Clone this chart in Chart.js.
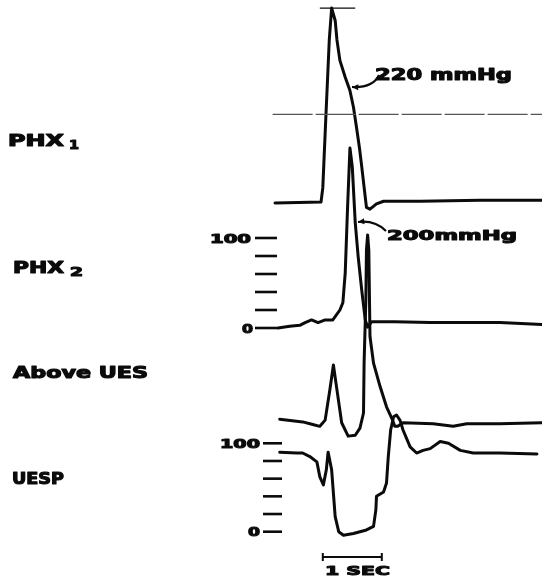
<!DOCTYPE html>
<html>
<head>
<meta charset="utf-8">
<script src="https://cdn.jsdelivr.net/npm/chart.js@4/dist/chart.umd.min.js"></script>
<style>
html,body{margin:0;padding:0;background:#fff;}
#wrap{position:relative;width:542px;height:579px;}
</style>
</head>
<body>
<div id="wrap"><canvas id="c"></canvas></div>
<script>
// ---- DATA (time in seconds, pressure in mmHg) ----
const traceNames = ['PHX', 'PHX', 'Above UES', 'UESP'];
const traceSubscripts = ['1', '2', '', ''];

const phx1Time  = [0, 0.78, 0.81, 0.86, 0.92, 0.96, 1.02, 1.05, 1.10, 1.19, 1.27, 1.33, 1.38, 1.43, 1.47, 1.51, 1.55, 1.61, 1.72, 1.84, 2.46, 3.47, 4.53];
const phx1Value = [0, 1, 17, 94, 184, 220, 206, 184, 161, 142, 127, 108, 86, 63, 41, 18, -5, -7, -1, 2, 2, 3, 3];

const phx2Time  = [0.05, 0.25, 0.42, 0.51, 0.62, 0.73, 0.85, 0.98, 1.10, 1.15, 1.19, 1.23, 1.27, 1.31, 1.36, 1.41, 1.47, 1.53, 1.57, 1.64, 2.03, 2.63, 3.81, 4.53];
const phx2Value = [0, 2, 3, 6, 9, 6, 9, 9, 20, 28, 61, 134, 200, 179, 117, 79, 42, 9, 1, 7, 7, 6, 6, 4];

const aboveUesTime  = [0.08, 0.47, 0.64, 0.76, 0.85, 0.93, 0.99, 1.05, 1.13, 1.24, 1.36, 1.44, 1.50, 1.51, 1.54, 1.55, 1.57, 1.59, 1.61, 1.67, 1.78, 1.89, 1.98, 2.03, 2.08, 2.17, 2.68, 3.02, 3.25, 3.81, 4.53];
const aboveUesValue = [2, -1, -4, -6, 1, 35, 63, 35, -2, -17, -16, -8, 9, 65, 136, 192, 209, 192, 95, 65, 39, 16, 3, -6, -6, -2, -3, -6, -3, -3, -2];

const uespTime  = [0.08, 0.37, 0.47, 0.59, 0.71, 0.76, 0.82, 0.87, 0.90, 0.96, 1.02, 1.08, 1.16, 1.33, 1.55, 1.67, 1.71, 1.72, 1.84, 1.89, 1.92, 1.96, 2.01, 2.06, 2.12, 2.17, 2.29, 2.40, 2.51, 2.63, 2.80, 2.94, 3.14, 3.36, 3.81, 4.44];
const uespValue = [90, 89, 89, 85, 79, 62, 53, 70, 90, 70, 17, 0, -4, -2, 2, 6, 25, 40, 45, 55, 85, 115, 130, 132, 126, 115, 96, 89, 92, 94, 102, 100, 92, 89, 89, 88];

const scaleTicks  = [0, 20, 40, 60, 80, 100];
const tickLabels  = ['0', '100'];
const tickLabelValues = [0, 100];
const peakLabels  = ['220 mmHg', '200mmHg'];
const peakValues  = [220, 200];
const phx1RefLevel = 100;
const timeBarLabel = '1 SEC';
const timeBarSeconds = 1;

// ---- helpers ----
const pts = (t, v) => t.map((x, i) => ({x: x, y: v[i]}));
const INK = '#0b0b0b';

function lineDs(data, axis, width, extra) {
  return Object.assign({
    data: data, yAxisID: axis, showLine: true, pointRadius: 0,
    borderColor: INK, borderWidth: width, tension: 0,
    borderJoinStyle: 'round', borderCapStyle: 'round', clip: false
  }, extra || {});
}

function yAxis(zeroPx, pxPerUnit) {
  return { type: 'linear', display: false, max: zeroPx / pxPerUnit, min: -(579 - zeroPx) / pxPerUnit };
}

function drawText(ctx, s, x, base, size, width) {
  ctx.save();
  ctx.font = 'bold ' + size + 'px "DejaVu Sans"';
  ctx.textBaseline = 'alphabetic';
  ctx.textAlign = 'left';
  const w = ctx.measureText(s).width;
  ctx.translate(x, base);
  ctx.scale(width / w, 1);
  ctx.fillStyle = INK;
  ctx.strokeStyle = INK;
  ctx.lineWidth = 1.1;
  ctx.lineJoin = 'round';
  ctx.fillText(s, 0, 0);
  ctx.strokeText(s, 0, 0);
  ctx.restore();
}

function arrow(ctx, x0, y0, cx, cy, x1, y1) {
  ctx.save();
  ctx.strokeStyle = INK; ctx.fillStyle = INK; ctx.lineWidth = 2.2;
  ctx.beginPath(); ctx.moveTo(x0, y0); ctx.quadraticCurveTo(cx, cy, x1, y1); ctx.stroke();
  const ang = Math.atan2(y1 - cy, x1 - cx);
  ctx.beginPath();
  ctx.moveTo(x1, y1);
  ctx.lineTo(x1 - 7 * Math.cos(ang - 0.45), y1 - 7 * Math.sin(ang - 0.45));
  ctx.lineTo(x1 - 7 * Math.cos(ang + 0.45), y1 - 7 * Math.sin(ang + 0.45));
  ctx.closePath(); ctx.fill();
  ctx.restore();
}

const decor = {
  id: 'decor',
  afterDatasetsDraw(chart) {
    const ctx = chart.ctx;
    const sx = chart.scales.x, s2 = chart.scales.yPhx2, su = chart.scales.yUesp;

    // trace names
    drawText(ctx, traceNames[0], 8, 146, 15, 56);
    drawText(ctx, traceSubscripts[0], 69, 149, 12, 10);
    drawText(ctx, traceNames[1], 13, 273, 15, 51);
    drawText(ctx, traceSubscripts[1], 70, 276, 12, 13);
    drawText(ctx, traceNames[2], 13, 378, 15, 135);
    drawText(ctx, traceNames[3], 12, 484, 15, 52);

    // pressure scales
    ctx.save();
    ctx.strokeStyle = INK; ctx.lineWidth = 2.6; ctx.lineCap = 'butt';
    scaleTicks.forEach(v => {
      const y2 = s2.getPixelForValue(v);
      ctx.beginPath(); ctx.moveTo(255, y2); ctx.lineTo(277, y2); ctx.stroke();
      const yu = su.getPixelForValue(v);
      ctx.beginPath(); ctx.moveTo(263, yu); ctx.lineTo(282, yu); ctx.stroke();
    });
    ctx.restore();
    tickLabelValues.forEach((v, i) => {
      const lab = tickLabels[i];
      const y2 = s2.getPixelForValue(v) + 4.5;
      const yu = su.getPixelForValue(v) + 4.5;
      if (lab.length === 3) {
        drawText(ctx, lab, 210, y2, 12.5, 41);
        drawText(ctx, lab, 220, yu, 12.5, 40);
      } else {
        drawText(ctx, lab, 242, y2, 12.5, 11);
        drawText(ctx, lab, 248, yu, 12.5, 12);
      }
    });

    // peak annotations
    drawText(ctx, peakLabels[0], 375, 80, 15, 137);
    arrow(ctx, 379, 75, 373, 88, 352, 87);
    drawText(ctx, peakLabels[1], 387, 240, 14, 130);
    arrow(ctx, 386, 231, 375, 220, 358, 222);

    // time bar
    const tb0 = sx.getPixelForValue(0.81), tb1 = sx.getPixelForValue(0.81 + timeBarSeconds);
    ctx.save();
    ctx.strokeStyle = INK; ctx.lineWidth = 2.2;
    ctx.beginPath(); ctx.moveTo(tb0, 557); ctx.lineTo(tb1, 557); ctx.stroke();
    ctx.lineWidth = 2;
    ctx.beginPath(); ctx.moveTo(tb0, 553); ctx.lineTo(tb0, 561); ctx.moveTo(tb1, 553); ctx.lineTo(tb1, 561); ctx.stroke();
    ctx.restore();
    drawText(ctx, timeBarLabel, 325, 575, 13, 65);
  }
};

new Chart(document.getElementById('c'), {
  type: 'scatter',
  data: {
    datasets: [
      lineDs([{x: -0.04, y: phx1RefLevel}, {x: 4.53, y: phx1RefLevel}], 'yPhx1', 1.3, {borderColor: '#555', borderDash: [40, 3], borderCapStyle: 'butt'}),
      lineDs([{x: 0.76, y: peakValues[0]}, {x: 1.36, y: peakValues[0]}], 'yPhx1', 1.4, {borderCapStyle: 'butt'}),
      lineDs(pts(phx1Time, phx1Value), 'yPhx1', 3),
      lineDs(pts(phx2Time, phx2Value), 'yPhx2', 3),
      lineDs(pts(aboveUesTime, aboveUesValue), 'yAbove', 3),
      lineDs(pts(uespTime, uespValue), 'yUesp', 3)
    ]
  },
  options: {
    responsive: true, maintainAspectRatio: false, animation: false,
    layout: {padding: 0},
    plugins: {legend: {display: false}, tooltip: {enabled: false}, title: {display: false}},
    scales: {
      x: {type: 'linear', display: false, min: -275 / 59, max: 267 / 59},
      yPhx1: yAxis(203, 0.886),
      yPhx2: yAxis(328, 0.9),
      yAbove: yAxis(421, 0.89),
      yUesp: yAxis(531.7, 0.884)
    }
  },
  plugins: [decor]
});
</script>
</body>
</html>
